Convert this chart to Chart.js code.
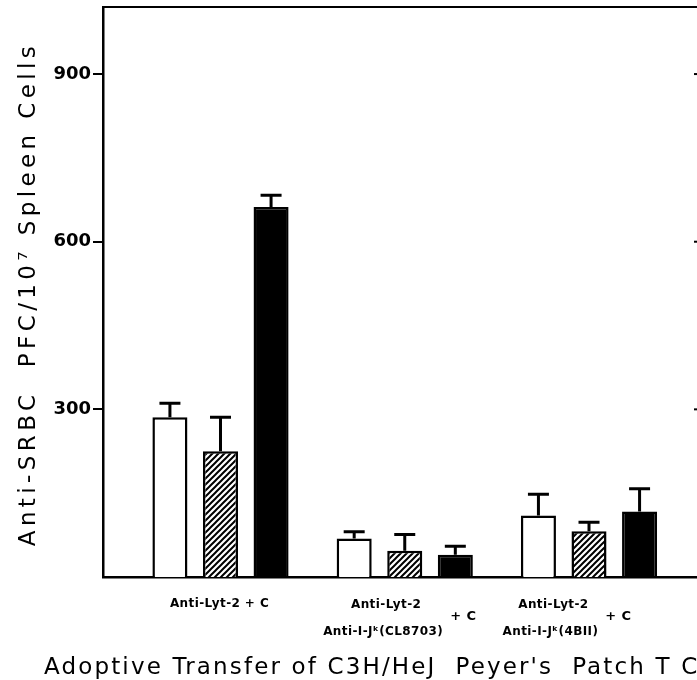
<!DOCTYPE html>
<html><head><meta charset="utf-8">
<script src="https://cdn.jsdelivr.net/npm/chart.js@4/dist/chart.umd.min.js"></script>
<style>
html,body{margin:0;padding:0;background:#fff;overflow:hidden;}
#wrap{width:697px;height:680px;overflow:hidden;position:relative;background:#fff;}
canvas{display:block;}
</style></head><body>
<div id="wrap"><canvas id="c" width="706" height="680" style="width:706px;height:680px"></canvas></div>
<script>
// ---- data ----
const groupPositions = [1, 2, 3];
const labelLine1 = ["Anti-Lyt-2 + C", "Anti-Lyt-2", "Anti-Lyt-2"];
const labelLine2 = ["", "Anti-I-J\u1D4F(CL8703)", "Anti-I-J\u1D4F(4BII)"];
const labelSuffix = ["", "+ C", "+ C"];
const openValues = [286, 69, 110];
const openErrors = [25, 12, 38];
const hatchedValues = [225, 47, 82];
const hatchedErrors = [61, 29, 16];
const solidValues = [662, 40, 117];
const solidErrors = [21, 15, 41];
const yTickValues = [300, 600, 900];
const yTitle = "Anti-SRBC  PFC/10\u2077 Spleen Cells";
const xTitle = "Adoptive Transfer of C3H/HeJ  Peyer's  Patch T Cells";

// ---- styling / layout ----
const labelShift = [-1, -5, -22];
const canvas = document.getElementById('c');
const ctx0 = canvas.getContext('2d');
const tile = document.createElement('canvas');
tile.width = 6; tile.height = 6;
(function(){
  const g = tile.getContext('2d');
  g.fillStyle = '#fff'; g.fillRect(0,0,6,6);
  g.strokeStyle = '#000'; g.lineWidth = 2;
  g.beginPath();
  g.moveTo(-1,7); g.lineTo(7,-1);
  g.moveTo(-1,1); g.lineTo(1,-1);
  g.moveTo(5,7); g.lineTo(7,5);
  g.stroke();
})();
const hatch = ctx0.createPattern(tile, 'repeat');

function pts(vals){ return groupPositions.map((g,i)=>({x:g, y:vals[i]})); }

const errorsByDataset = [openErrors, hatchedErrors, solidErrors];

function setSpacing(ctx, v) { try { ctx.letterSpacing = v; } catch (e) {} }

const extras = {
  id: 'extras',
  afterDatasetsDraw(chart) {
    const ctx = chart.ctx;
    const y = chart.scales.y;
    ctx.save();
    ctx.strokeStyle = '#000';
    ctx.lineWidth = 3;
    chart.data.datasets.forEach((ds, di) => {
      const meta = chart.getDatasetMeta(di);
      meta.data.forEach((el, i) => {
        const v = ds.data[i].y;
        const e = errorsByDataset[di][i];
        const yTop = y.getPixelForValue(v + e);
        ctx.beginPath();
        ctx.moveTo(el.x, el.y);
        ctx.lineTo(el.x, yTop);
        ctx.moveTo(el.x - 10.5, yTop);
        ctx.lineTo(el.x + 10.5, yTop);
        ctx.stroke();
      });
    });
    ctx.restore();
  },
  afterDraw(chart) {
    const ctx = chart.ctx;
    const a = chart.chartArea;
    const x = chart.scales.x;
    const y = chart.scales.y;
    ctx.save();
    ctx.strokeStyle = '#000';
    ctx.lineWidth = 2;
    ctx.beginPath();
    ctx.moveTo(a.left - 1, a.top);
    ctx.lineTo(a.right, a.top);
    ctx.lineTo(a.right, a.bottom);
    ctx.stroke();
    yTickValues.forEach(v => {
      const py = y.getPixelForValue(v);
      ctx.beginPath();
      ctx.moveTo(a.right - 6, py);
      ctx.lineTo(a.right, py);
      ctx.stroke();
    });
    ctx.fillStyle = '#000';
    ctx.textBaseline = 'middle';
    const lblFont = 'bold 12px "DejaVu Sans"';
    const sufFont = 'bold 13px "DejaVu Sans"';
    ctx.font = lblFont;
    setSpacing(ctx, '0.4px');
    groupPositions.forEach((g, i) => {
      const cx = x.getPixelForValue(g) + labelShift[i];
      if (!labelLine2[i]) {
        ctx.textAlign = 'center';
        ctx.fillText(labelLine1[i], cx, 604);
      } else {
        ctx.font = lblFont;
        const w2 = ctx.measureText(labelLine2[i]).width;
        ctx.font = sufFont;
        const ws = ctx.measureText(labelSuffix[i]).width;
        ctx.font = lblFont;
        const gap = 7;
        const total = w2 + gap + ws;
        const left = cx - total / 2;
        ctx.textAlign = 'center';
        ctx.fillText(labelLine1[i], left + w2 / 2 + 3, 605);
        ctx.fillText(labelLine2[i], left + w2 / 2, 632);
        ctx.textAlign = 'left';
        ctx.font = sufFont;
        ctx.fillText(labelSuffix[i], left + w2 + gap, 617);
        ctx.font = lblFont;
      }
    });
    ctx.font = '23px "DejaVu Sans"';
    setSpacing(ctx, '2.15px');
    ctx.textAlign = 'left';
    ctx.textBaseline = 'alphabetic';
    ctx.fillText(xTitle, 44, 674);
    ctx.save();
    ctx.font = '23px "DejaVu Sans"';
    setSpacing(ctx, '4.4px');
    ctx.translate(29, (a.top + a.bottom) / 2 + 2);
    ctx.rotate(-Math.PI / 2);
    ctx.textAlign = 'center';
    ctx.textBaseline = 'middle';
    ctx.fillText(yTitle, 0, 0);
    ctx.restore();
    ctx.restore();
  }
};

new Chart(canvas, {
  type: 'bar',
  data: {
    datasets: [
      { data: pts(openValues), backgroundColor: '#fff', borderColor: '#000', borderWidth: 2.5 },
      { data: pts(hatchedValues), backgroundColor: hatch, borderColor: '#000', borderWidth: 2.5 },
      { data: pts(solidValues), backgroundColor: '#000', borderColor: '#000', borderWidth: 2.5 }
    ]
  },
  options: {
    responsive: false,
    animation: false,
    devicePixelRatio: 1,
    categoryPercentage: 0.8234,
    barPercentage: 0.693,
    layout: { padding: { left: 0, right: 6, top: 7, bottom: 0 } },
    plugins: { legend: { display: false }, tooltip: { enabled: false } },
    scales: {
      x: {
        type: 'linear',
        offset: false,
        min: 0.3623,
        max: 3.6024,
        afterBuildTicks: s => { s.ticks = groupPositions.map(v => ({ value: v })); },
        afterFit: s => { s.height = 103; s.paddingLeft = 0; s.paddingRight = 0; },
        ticks: { display: false },
        grid: { display: false, offset: false },
        border: { display: true, color: '#000', width: 2.5 }
      },
      y: {
        min: 0,
        max: 1020,
        afterBuildTicks: s => { s.ticks = yTickValues.map(v => ({ value: v })); },
        afterFit: s => { s.width = 103; s.paddingTop = 0; s.paddingBottom = 0; },
        ticks: { color: '#000', padding: 2, font: { family: 'DejaVu Sans', size: 18, weight: 'bold' } },
        grid: { drawOnChartArea: false, drawTicks: true, tickLength: 10, color: '#000', lineWidth: 2 },
        border: { display: true, color: '#000', width: 2.5 }
      }
    }
  },
  plugins: [extras]
});
</script>
</body></html>
